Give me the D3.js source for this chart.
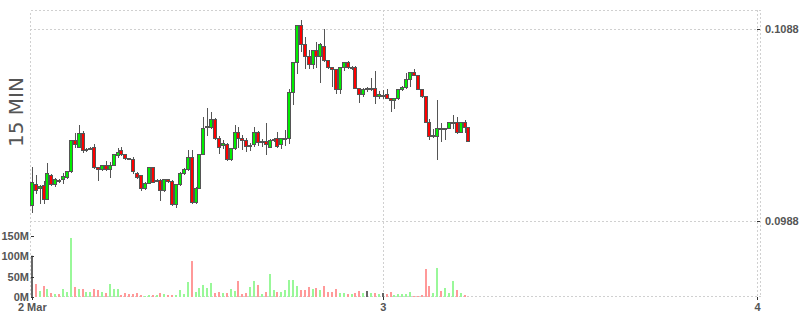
<!DOCTYPE html>
<html>
<head>
<meta charset="utf-8">
<script src="https://cdn.jsdelivr.net/npm/d3@7"></script>
<style>
  body { margin: 0; background: #fff; }
  svg { display: block; font-family: "DejaVu Sans", sans-serif; }
  .grid line, .frame { stroke: #d0d0d0; stroke-dasharray: 2,2; fill: none; shape-rendering: crispEdges; }
  .axis text { font-size: 11px; font-weight: bold; fill: #555; }
  .axis line { stroke: #333; shape-rendering: crispEdges; }
  .axis path { display: none; }
  .wick { stroke: #555; stroke-width: 1; shape-rendering: crispEdges; }
  .body { stroke: #555; stroke-width: 1; shape-rendering: crispEdges; }
</style>
</head>
<body>
<div id="chart"></div>
<script>
// 15 minute candles starting 2 Mar 01:30
const startTime = new Date(2018, 2, 2, 1, 30);
const stepMinutes = 15;

const opens = [
  0.09962, 0.10071, 0.10052, 0.10070, 0.09997, 0.10118, 0.10071, 0.10094, 0.10098, 0.10108,
  0.10141, 0.10301, 0.10268, 0.10337, 0.10250, 0.10256, 0.10268, 0.10160, 0.10151, 0.10171,
  0.10150, 0.10171, 0.10223, 0.10249, 0.10228, 0.10207, 0.10205, 0.10129, 0.10120, 0.10051,
  0.10080, 0.10160, 0.10091, 0.10094, 0.10042, 0.10098, 0.10089, 0.09969, 0.10071, 0.10129,
  0.10150, 0.10215, 0.09979, 0.10052, 0.10230, 0.10369, 0.10369, 0.10412, 0.10315, 0.10276,
  0.10280, 0.10202, 0.10259, 0.10346, 0.10311, 0.10303, 0.10271, 0.10282, 0.10346, 0.10294,
  0.10299, 0.10268, 0.10303, 0.10311, 0.10282, 0.10310, 0.10311, 0.10551, 0.10708, 0.10902,
  0.10803, 0.10741, 0.10697, 0.10772, 0.10741, 0.10793, 0.10720, 0.10682, 0.10671, 0.10567,
  0.10685, 0.10708, 0.10678, 0.10685, 0.10575, 0.10541, 0.10572, 0.10567, 0.10575, 0.10532,
  0.10537, 0.10541, 0.10520, 0.10511, 0.10520, 0.10567, 0.10577, 0.10619, 0.10659, 0.10642,
  0.10567, 0.10532, 0.10398, 0.10325, 0.10325, 0.10367, 0.10360, 0.10367, 0.10397, 0.10398,
  0.10346, 0.10398, 0.10369
];
const highs = [
  0.10162, 0.10120, 0.10068, 0.10089, 0.10184, 0.10125, 0.10104, 0.10099, 0.10130, 0.10141,
  0.10303, 0.10337, 0.10381, 0.10349, 0.10261, 0.10266, 0.10280, 0.10163, 0.10172, 0.10195,
  0.10189, 0.10230, 0.10262, 0.10268, 0.10230, 0.10209, 0.10212, 0.10136, 0.10120, 0.10083,
  0.10163, 0.10162, 0.10099, 0.10098, 0.10099, 0.10099, 0.10094, 0.10073, 0.10136, 0.10156,
  0.10250, 0.10250, 0.10059, 0.10230, 0.10424, 0.10471, 0.10449, 0.10417, 0.10323, 0.10303,
  0.10287, 0.10261, 0.10379, 0.10372, 0.10329, 0.10311, 0.10287, 0.10370, 0.10349, 0.10308,
  0.10390, 0.10308, 0.10313, 0.10346, 0.10313, 0.10355, 0.10567, 0.10708, 0.10902, 0.10929,
  0.10841, 0.10772, 0.10772, 0.10815, 0.10807, 0.10882, 0.10720, 0.10685, 0.10671, 0.10685,
  0.10709, 0.10715, 0.10689, 0.10689, 0.10575, 0.10574, 0.10579, 0.10624, 0.10662, 0.10560,
  0.10563, 0.10567, 0.10520, 0.10522, 0.10569, 0.10584, 0.10654, 0.10659, 0.10671, 0.10642,
  0.10569, 0.10532, 0.10411, 0.10360, 0.10511, 0.10390, 0.10367, 0.10398, 0.10433, 0.10423,
  0.10398, 0.10407, 0.10369
];
const lows = [
  0.09929, 0.10024, 0.09974, 0.09974, 0.09995, 0.10068, 0.10063, 0.10083, 0.10078, 0.10104,
  0.10138, 0.10268, 0.10266, 0.10242, 0.10245, 0.10253, 0.10155, 0.10094, 0.10146, 0.10146,
  0.10108, 0.10170, 0.10215, 0.10224, 0.10203, 0.10201, 0.10132, 0.10104, 0.10042, 0.10047,
  0.10080, 0.10083, 0.10089, 0.09990, 0.10039, 0.10081, 0.09963, 0.09955, 0.10068, 0.10125,
  0.10146, 0.09972, 0.09972, 0.10051, 0.10228, 0.10329, 0.10365, 0.10308, 0.10236, 0.10259,
  0.10198, 0.10198, 0.10256, 0.10268, 0.10256, 0.10247, 0.10250, 0.10271, 0.10276, 0.10271,
  0.10230, 0.10266, 0.10297, 0.10268, 0.10259, 0.10276, 0.10285, 0.10489, 0.10650, 0.10768,
  0.10680, 0.10680, 0.10680, 0.10685, 0.10607, 0.10717, 0.10678, 0.10584, 0.10549, 0.10549,
  0.10668, 0.10677, 0.10673, 0.10574, 0.10499, 0.10532, 0.10558, 0.10563, 0.10497, 0.10520,
  0.10520, 0.10522, 0.10455, 0.10468, 0.10519, 0.10563, 0.10576, 0.10584, 0.10639, 0.10566,
  0.10529, 0.10396, 0.10308, 0.10320, 0.10202, 0.10299, 0.10308, 0.10365, 0.10367, 0.10339,
  0.10344, 0.10346, 0.10299
];
const closes = [
  0.10082, 0.10042, 0.10063, 0.09997, 0.10129, 0.10071, 0.10098, 0.10089, 0.10117, 0.10141,
  0.10301, 0.10280, 0.10337, 0.10250, 0.10257, 0.10259, 0.10163, 0.10151, 0.10171, 0.10150,
  0.10171, 0.10228, 0.10238, 0.10230, 0.10207, 0.10203, 0.10139, 0.10108, 0.10051, 0.10080,
  0.10160, 0.10085, 0.10094, 0.10042, 0.10098, 0.10089, 0.09969, 0.10071, 0.10129, 0.10150,
  0.10215, 0.09979, 0.10052, 0.10230, 0.10367, 0.10378, 0.10412, 0.10315, 0.10268, 0.10288,
  0.10202, 0.10259, 0.10346, 0.10311, 0.10303, 0.10271, 0.10275, 0.10346, 0.10294, 0.10299,
  0.10282, 0.10303, 0.10306, 0.10271, 0.10311, 0.10311, 0.10551, 0.10708, 0.10902, 0.10803,
  0.10741, 0.10697, 0.10772, 0.10741, 0.10803, 0.10720, 0.10682, 0.10671, 0.10567, 0.10685,
  0.10708, 0.10685, 0.10685, 0.10575, 0.10541, 0.10567, 0.10572, 0.10575, 0.10532, 0.10541,
  0.10537, 0.10523, 0.10511, 0.10520, 0.10567, 0.10577, 0.10619, 0.10659, 0.10642, 0.10567,
  0.10532, 0.10398, 0.10325, 0.10331, 0.10367, 0.10360, 0.10367, 0.10398, 0.10398, 0.10346,
  0.10398, 0.10372, 0.10299
];
// volume in millions
const volumes = [
  101, 31.8, 14.7, 26.9, 19.6, 9.8, 7.3, 7.3, 19.6, 12.2,
  144.4, 24.5, 19.6, 19.6, 12.2, 12.2, 19.6, 17.1, 12.2, 9.8,
  31.8, 19.6, 19.6, 4.9, 9.8, 7.3, 7.3, 9.8, 4.9, 2.4,
  4.9, 4.9, 4.9, 9.8, 7.3, 4.9, 4.9, 4.9, 17.1, 7.3,
  36.7, 88, 12.2, 22, 29.4, 22, 34.3, 9.8, 12.2, 9.8,
  9.8, 19.6, 14.7, 39.2, 7.3, 9.8, 24.5, 39.2, 29.4, 7.3,
  12.2, 56.3, 17.1, 12.2, 12.2, 17.1, 41.6, 41.6, 26.9, 17.1,
  17.1, 24.5, 19.6, 22, 17.1, 26.9, 12.2, 12.2, 19.6, 9.8,
  9.8, 7.3, 7.3, 9.8, 14.7, 9.8, 14.7, 9.8, 9.8, 7.3,
  9.8, 7.3, 12.2, 4.9, 7.3, 7.3, 7.3, 12.2, 2.4, 2.4,
  4.9, 68.5, 26.9, 9.8, 71, 14.7, 22, 9.8, 39.2, 17.1,
  9.8, 4.9, 0.5
];

const priceTicks = [0.0988, 0.1088];
const volumeTicks = [0, 50, 100, 150];
const xTickLabels = ["2 Mar", "3", "4"];
const chartLabel = "15 MIN";

const width = 800, height = 315;

let candles = opens.map((o, i) => ({
  time: d3.timeMinute.offset(startTime, i * stepMinutes),
  open: o, high: highs[i], low: lows[i], close: closes[i], volume: volumes[i], i: i
}));

let svg = d3.select('#chart').append('svg')
  .attr('width', width)
  .attr('height', height);

let x = d3.scaleTime()
  .domain([new Date(2018, 2, 2, 1, 23), new Date(2018, 2, 4)])
  .range([30, 757]);

let y = d3.scaleLinear()
  .domain([0.0988, 0.1088])
  .range([221, 29.3]);

let v = d3.scaleLinear()
  .domain([0, 150])
  .range([297, 235.7]);

let xTicks = [candles[0].time, new Date(2018, 2, 3), new Date(2018, 2, 4)];

// frame and grid
svg.append('rect')
  .attr('class', 'frame')
  .attr('x', 30.5).attr('y', 10.5)
  .attr('width', 730).attr('height', 286);

let grid = svg.append('g').attr('class', 'grid');
grid.selectAll('.hgrid')
  .data(priceTicks)
  .enter().append('line')
  .attr('x1', 30).attr('x2', 757)
  .attr('y1', d => Math.round(y(d)) + 0.5)
  .attr('y2', d => Math.round(y(d)) + 0.5);
grid.selectAll('.vgrid')
  .data(xTicks.slice(1))
  .enter().append('line')
  .attr('x1', d => Math.round(x(d)) + 0.5)
  .attr('x2', d => Math.round(x(d)) + 0.5)
  .attr('y1', 10).attr('y2', 297);

function dir(d) {
  if (d.close > d.open) return 'up';
  if (d.close < d.open) return 'down';
  return 'flat';
}

let cx = d => Math.round(x(d.time));
let py = p => Math.round(y(p)) + 0.5;

// volume
svg.append('g').selectAll('rect')
  .data(candles)
  .enter().append('rect')
  .attr('x', d => cx(d) - 1)
  .attr('width', 2)
  .attr('y', d => v(d.volume))
  .attr('height', d => v(0) - v(d.volume))
  .attr('fill', d => {
    if (d.i === 0 || dir(d) === 'flat') return '#666';
    return dir(d) === 'up' ? '#99f899' : '#ff9999';
  });

// wicks
svg.append('g').selectAll('line')
  .data(candles)
  .enter().append('line')
  .attr('class', 'wick')
  .attr('x1', d => cx(d) + 0.5)
  .attr('x2', d => cx(d) + 0.5)
  .attr('y1', d => Math.round(y(d.high)))
  .attr('y2', d => Math.round(y(d.low)) + 1);

// bodies
svg.append('g').selectAll('rect')
  .data(candles)
  .enter().append('rect')
  .attr('class', 'body')
  .attr('x', d => cx(d) - 1.5)
  .attr('width', 3)
  .attr('y', d => py(Math.max(d.open, d.close)))
  .attr('height', d => Math.max(1, py(Math.min(d.open, d.close)) - py(Math.max(d.open, d.close))))
  .attr('fill', d => dir(d) === 'up' ? '#00ee00' : (dir(d) === 'down' ? '#ff0000' : '#888'));

// axes
svg.append('g')
  .attr('class', 'axis')
  .attr('transform', 'translate(757,0)')
  .call(d3.axisRight(y).tickValues(priceTicks).tickFormat(d3.format('.4f')).tickSize(3).tickPadding(5));

svg.append('g')
  .attr('class', 'axis')
  .attr('transform', 'translate(34,0)')
  .call(d3.axisLeft(v).tickValues(volumeTicks).tickFormat(d => d + 'M').tickSize(3).tickPadding(2));

svg.append('g')
  .attr('class', 'axis')
  .attr('transform', 'translate(0,297)')
  .call(d3.axisBottom(x).tickValues(xTicks).tickFormat((d, i) => xTickLabels[i]).tickSize(3).tickPadding(3));

svg.append('text')
  .attr('transform', 'translate(23,112) rotate(-90)')
  .style('text-anchor', 'middle')
  .style('font-size', '20px')
  .style('fill', '#555')
  .text(chartLabel);
</script>
</body>
</html>
